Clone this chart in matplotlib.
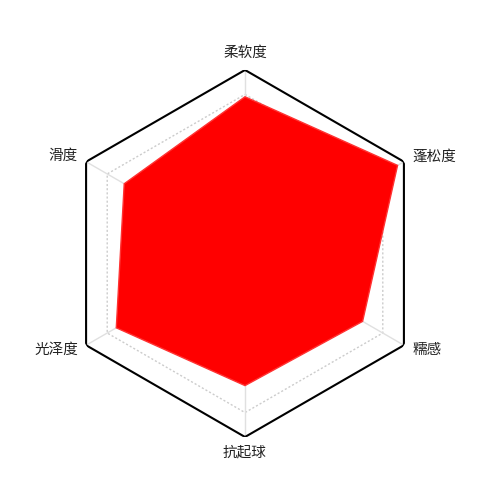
import numpy as np
import matplotlib
matplotlib.use("Agg")
import matplotlib.pyplot as plt

plt.rcParams['font.family'] = ['Noto Sans CJK SC', 'DejaVu Sans']

# 雷达图的维度和数值（满分 100）
labels = ["柔软度", "蓬松度", "糯感", "抗起球", "光泽度", "滑度"]
values = [85.4, 96, 74, 72, 81, 76]
max_value = 100
ring_levels = [86.7]

# 标签相对于顶点的偏移 (像素) 和对齐方式
label_offsets = [(0, 17), (9, 5), (9, -5), (0, -16), (-8, -5), (-8, 6)]
label_align = ["center", "left", "left", "center", "right", "right"]

n = len(labels)
angles = np.linspace(0, 2 * np.pi, n, endpoint=False)
closed = np.append(angles, angles[0])

fig = plt.figure(figsize=(5.0, 4.98), dpi=100)
ax = fig.add_axes([0.123, 0.1225, 0.734, 0.737], projection="polar")
ax.set_theta_offset(np.pi / 2)
ax.set_theta_direction(-1)
ax.set_ylim(0, max_value)
ax.grid(False)
ax.spines["polar"].set_visible(False)
ax.set_xticks([])
ax.set_yticks([])
ax.patch.set_visible(False)

# 分隔环（虚线）
for lv in ring_levels:
    ax.plot(closed, [lv] * (n + 1), color="#cccccc", lw=1, ls=(0, (1.5, 1.5)), zorder=1)

# 轴线
for a in angles:
    ax.plot([a, a], [0, max_value], color="#e0e0e0", lw=1, zorder=1)

# 数据区域
vals = values + values[:1]
ax.fill(closed, vals, color="#ff0000", lw=1, edgecolor="#ff3333", zorder=2)

# 外框
ax.plot(closed, [max_value] * (n + 1), color="black", lw=1.5, zorder=3)

for a, lab, off, ha in zip(angles, labels, label_offsets, label_align):
    ax.annotate(lab, xy=(a, max_value), xytext=(off[0] * 0.72, off[1] * 0.72),
                textcoords="offset points", ha=ha, va="center",
                fontsize=10.5, color="#222222", annotation_clip=False)

fig.savefig("out.png", dpi=100)
